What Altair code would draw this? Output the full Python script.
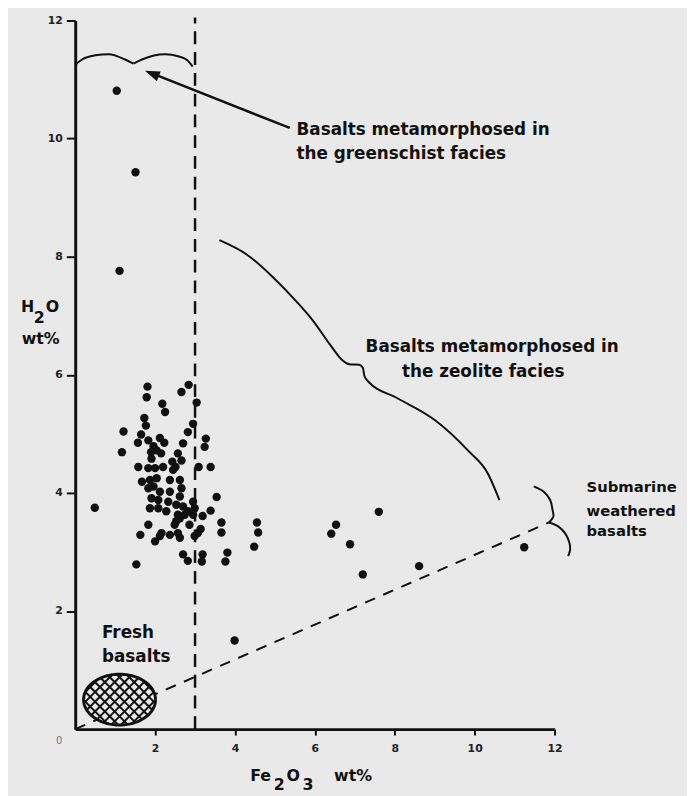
import numpy as np
import pandas as pd
import altair as alt

BG = "#e9e9e9"
INK = "#111111"
FONT = "DejaVu Sans"

# ---------------- data: Fe2O3 wt% vs H2O wt% ----------------
fe2o3 = [1.04, 1.51, 1.11, 0.49, 1.53, 3.99,
         6.53, 6.41, 7.60, 6.88, 7.20, 8.61, 11.24,
         3.14, 3.19, 3.39, 3.54, 3.66, 3.66, 3.19, 3.17, 3.81, 3.76, 4.55, 4.58, 4.48,
         3.27, 3.24, 3.09, 3.39,
         1.81, 1.79, 2.84, 2.66, 3.04, 2.18, 2.25, 1.73, 1.77, 2.95, 2.82, 1.21, 1.65,
         1.17, 1.57, 1.83, 2.12, 2.23, 1.96, 2.04, 1.90, 1.91, 2.15, 2.70, 2.57, 2.66,
         2.43, 1.58, 1.83, 2.00, 2.20, 2.51, 2.45, 1.67, 1.87, 2.04, 1.96, 1.83, 2.37,
         2.62, 2.66, 2.12, 2.37, 1.91, 2.08, 2.62, 2.33, 1.87, 2.08, 2.28, 2.53, 2.70,
         2.95, 2.99, 2.82, 2.57, 2.74, 2.95, 2.62, 2.53, 2.49, 2.86, 1.83, 1.63, 2.16,
         2.12, 2.37, 2.57, 2.62, 2.00, 2.99, 3.07, 2.70, 2.82]
h2o = [10.81, 9.43, 7.76, 3.75, 2.79, 1.50,
       3.46, 3.31, 3.68, 3.13, 2.62, 2.76, 3.08,
       3.39, 3.61, 3.70, 3.93, 3.50, 3.33, 2.96, 2.84, 2.99, 2.84, 3.50, 3.33, 3.09,
       4.92, 4.78, 4.44, 4.44,
       5.80, 5.62, 5.83, 5.71, 5.53, 5.51, 5.37, 5.27, 5.14, 5.17, 5.03, 5.04, 4.99,
       4.69, 4.85, 4.89, 4.93, 4.85, 4.79, 4.72, 4.69, 4.58, 4.67, 4.84, 4.67, 4.55,
       4.53, 4.44, 4.42, 4.42, 4.44, 4.44, 4.39, 4.19, 4.22, 4.25, 4.11, 4.08, 4.22,
       4.22, 4.08, 4.02, 4.02, 3.91, 3.88, 3.94, 3.85, 3.74, 3.74, 3.69, 3.80, 3.77,
       3.85, 3.74, 3.69, 3.63, 3.63, 3.63, 3.57, 3.52, 3.46, 3.46, 3.46, 3.29, 3.32,
       3.27, 3.29, 3.32, 3.24, 3.18, 3.27, 3.32, 2.96, 2.85]

tick_values = [2, 4, 6, 8, 10, 12]
axis_domain = [0, 12]

# reference lines
split_x = [3.0]
split_y0 = [0.0]
split_y1 = [12.05]
weather_x = [0.0, 11.86]
weather_y = [0.0, 3.50]

# brace over the greenschist field (two halves meeting at the cusp)
brace_gs_x = [0.0, 0.17, 0.5, 0.84, 1.25, 1.46, 1.46, 1.67, 2.24, 2.6, 2.8, 2.94]
brace_gs_y = [11.25, 11.34, 11.41, 11.43, 11.34, 11.27, 11.27, 11.34, 11.43, 11.39, 11.33, 11.22]
brace_gs_part = [0] * 6 + [1] * 6

# brace around the zeolite field
brace_zeo_x = [3.61, 4.31, 4.97, 5.54, 5.96, 6.37, 6.70, 6.86, 7.11, 7.20, 7.24, 7.36,
               8.02, 9.01, 9.83, 10.33, 10.62]
brace_zeo_y = [8.28, 8.03, 7.64, 7.24, 6.91, 6.52, 6.24, 6.18, 6.17, 6.12, 5.98, 5.87,
               5.62, 5.23, 4.72, 4.33, 3.88]

# brace for submarine weathered basalts
brace_sub_x = [11.48, 11.73, 11.89, 11.95, 11.97, 11.86, 11.86, 12.10, 12.27, 12.37, 12.39, 12.34]
brace_sub_y = [4.11, 4.02, 3.88, 3.71, 3.60, 3.50, 3.50, 3.43, 3.31, 3.16, 3.04, 2.93]
brace_sub_part = [0] * 6 + [1] * 6

# arrow to the greenschist brace
arrow_x = [2.05]
arrow_y = [11.07]
arrow_x2 = [5.37]
arrow_y2 = [10.18]
arrowhead_x = [1.92]
arrowhead_y = [11.10]

# fresh basalt field (ellipse): centre and radii in data units
fresh_cx, fresh_cy = 1.11, 0.50
fresh_rx, fresh_ry = 0.90, 0.43

# text labels
label_text = ["Basalts metamorphosed in", "the greenschist facies",
              "Basalts metamorphosed in", "the zeolite facies",
              "Fresh", "basalts"]
label_x = [5.54, 5.54, 7.27, 8.18, 0.67, 0.67]
label_y = [10.15, 9.73, 6.47, 6.05, 1.62, 1.22]

side_text = ["Submarine", "weathered", "basalts"]
side_x = [12.80, 12.80, 12.80]
side_y = [4.10, 3.70, 3.35]

title_text = ["H", "2", "O", "wt%", "Fe", "2", "O", "3", "wt%"]
title_x = [-1.36, -1.04, -0.74, -1.34, 4.38, 4.97, 5.29, 5.69, 6.48]
title_y = [7.15, 6.96, 7.15, 6.61, -0.79, -0.95, -0.79, -0.95, -0.79]

origin_text = ["0"]
origin_x = [-0.40]
origin_y = [-0.20]

# ---------------- layout ----------------
W, H = 485, 717
kx, ky = W / 12.0, H / 12.0

XS = alt.Scale(domain=axis_domain, nice=False, zero=False)
YS = alt.Scale(domain=axis_domain, nice=False, zero=False)

axis_common = dict(values=tick_values, title=None, grid=False, domainWidth=3,
                   domainColor=INK, tickColor=INK, tickWidth=2,
                   labelFont=FONT, labelFontSize=11, labelFontWeight="bold",
                   labelColor="#222222", labelFlush=False, labelOverlap=False)
XAXIS = alt.Axis(tickSize=6, labelPadding=8, **axis_common)
YAXIS = alt.Axis(tickSize=9, labelPadding=4, **axis_common)


def X(f):
    return alt.X(f, type="quantitative", scale=XS, axis=XAXIS)


def Y(f):
    return alt.Y(f, type="quantitative", scale=YS, axis=YAXIS)


pts = pd.DataFrame({"fe": fe2o3, "h": h2o})
points = alt.Chart(pts).mark_circle(size=72, color=INK, opacity=1).encode(
    x=X("fe"), y=Y("h"))

split_df = pd.DataFrame({"x": split_x, "y": split_y0, "y2": split_y1})
split = alt.Chart(split_df).mark_rule(color=INK, strokeWidth=2.5, strokeDash=[13, 8]).encode(
    x=X("x"), y=Y("y"), y2="y2:Q")

weather_df = pd.DataFrame({"x": weather_x, "y": weather_y})
weather = alt.Chart(weather_df).mark_line(color=INK, strokeWidth=2, strokeDash=[11, 9]).encode(
    x=X("x"), y=Y("y"))

# ellipse geometry (pixel space for a round hatch)
cxp, cyp = fresh_cx * kx, fresh_cy * ky
ap, bp = fresh_rx * kx, fresh_ry * ky
xs = np.linspace(cxp - ap, cxp + ap, 121)
half = bp * np.sqrt(np.clip(1 - ((xs - cxp) / ap) ** 2, 0, None))
fill_df = pd.DataFrame({"x": xs / kx, "lo": (cyp - half) / ky, "hi": (cyp + half) / ky})
ell_fill = alt.Chart(fill_df).mark_area(color=BG, opacity=1).encode(
    x=X("x"), y=Y("lo"), y2="hi:Q")

th = np.linspace(0, 2 * np.pi, 145)
outline_df = pd.DataFrame({"x": (cxp + ap * np.cos(th)) / kx,
                           "y": (cyp + bp * np.sin(th)) / ky,
                           "o": np.arange(len(th))})
ell_line = alt.Chart(outline_df).mark_line(color=INK, strokeWidth=3).encode(
    x=X("x"), y=Y("y"), order="o:Q")

segs = []
spacing = 7.0
for dx, dy in [(1.0, 1.0), (1.0, -1.0)]:
    d = np.array([dx, dy]) / np.sqrt(2)
    n = np.array([-d[1], d[0]])
    for k in range(-9, 10):
        p0 = np.array([cxp, cyp]) + n * (k * spacing + 2.0)
        ox, oy = p0[0] - cxp, p0[1] - cyp
        A = (d[0] / ap) ** 2 + (d[1] / bp) ** 2
        B = 2 * (ox * d[0] / ap ** 2 + oy * d[1] / bp ** 2)
        C = (ox / ap) ** 2 + (oy / bp) ** 2 - 1
        disc = B * B - 4 * A * C
        if disc <= 0:
            continue
        u1 = (-B - np.sqrt(disc)) / (2 * A)
        u2 = (-B + np.sqrt(disc)) / (2 * A)
        q1 = p0 + d * u1
        q2 = p0 + d * u2
        segs.append({"x": q1[0] / kx, "y": q1[1] / ky, "x2": q2[0] / kx, "y2": q2[1] / ky})
hatch = alt.Chart(pd.DataFrame(segs)).mark_rule(color=INK, strokeWidth=2).encode(
    x=X("x"), y=Y("y"), x2="x2:Q", y2="y2:Q")

gs_df = pd.DataFrame({"x": brace_gs_x, "y": brace_gs_y, "p": brace_gs_part,
                      "o": range(len(brace_gs_x))})
brace_gs = alt.Chart(gs_df).mark_line(color=INK, strokeWidth=2, interpolate="monotone").encode(
    x=X("x"), y=Y("y"), detail="p:N", order="o:Q")

zeo_df = pd.DataFrame({"x": brace_zeo_x, "y": brace_zeo_y, "o": range(len(brace_zeo_x))})
brace_zeo = alt.Chart(zeo_df).mark_line(color=INK, strokeWidth=2, interpolate="monotone").encode(
    x=X("x"), y=Y("y"), order="o:Q")

sub_df = pd.DataFrame({"x": brace_sub_x, "y": brace_sub_y, "p": brace_sub_part,
                       "o": range(len(brace_sub_x))})
brace_sub = alt.Chart(sub_df).mark_line(color=INK, strokeWidth=2, interpolate="catmull-rom").encode(
    x=X("x"), y=Y("y"), detail="p:N", order="o:Q")

arrow_df = pd.DataFrame({"x": arrow_x, "y": arrow_y, "x2": arrow_x2, "y2": arrow_y2})
arrow = alt.Chart(arrow_df).mark_rule(color=INK, strokeWidth=2.5).encode(
    x=X("x"), y=Y("y"), x2="x2:Q", y2="y2:Q")

head_df = pd.DataFrame({"x": arrowhead_x, "y": arrowhead_y})
head = alt.Chart(head_df).mark_point(shape="M0,-1L0.7,1L-0.7,1Z", angle=292, size=225,
                                     filled=True, color=INK, opacity=1).encode(
    x=X("x"), y=Y("y"))

lab_df = pd.DataFrame({"x": label_x, "y": label_y, "t": label_text})
labels = alt.Chart(lab_df).mark_text(align="left", baseline="middle", font=FONT, fontSize=17,
                                     fontWeight="bold", color=INK).encode(
    x=X("x"), y=Y("y"), text="t:N")

side_df = pd.DataFrame({"x": side_x, "y": side_y, "t": side_text})
side = alt.Chart(side_df).mark_text(align="left", baseline="middle", font=FONT, fontSize=15,
                                    fontWeight="bold", color=INK).encode(
    x=X("x"), y=Y("y"), text="t:N")

tit_df = pd.DataFrame({"x": title_x, "y": title_y, "t": title_text})
titles = alt.Chart(tit_df).mark_text(align="left", baseline="middle", font=FONT, fontSize=16,
                                     fontWeight="bold", color=INK).encode(
    x=X("x"), y=Y("y"), text="t:N")

org_df = pd.DataFrame({"x": origin_x, "y": origin_y, "t": origin_text})
origin = alt.Chart(org_df).mark_text(align="center", baseline="middle", font=FONT, fontSize=10,
                                     color="#777777").encode(
    x=X("x"), y=Y("y"), text="t:N")

chart = alt.layer(
    points, split, weather, ell_fill, hatch, ell_line, brace_gs, brace_zeo, brace_sub,
    arrow, head, labels, side, titles, origin
).properties(
    width=W, height=H, background=BG,
    padding={"left": 68, "top": 8, "right": 134, "bottom": 63},
    autosize=alt.AutoSizeParams(type="none"),
).configure_view(stroke=None)

chart.save("out.html", embed_options={"renderer": "svg", "actions": False})
